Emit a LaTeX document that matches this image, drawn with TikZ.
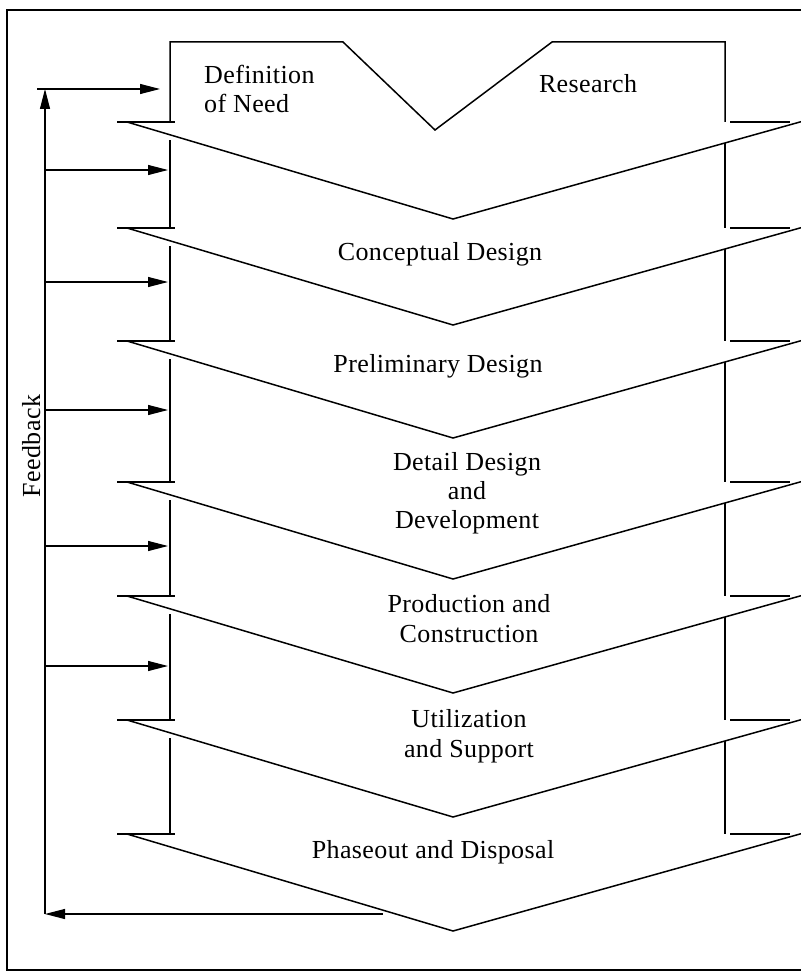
\documentclass[tikz,border=0pt]{standalone}
\usepackage{fontspec}
\setmainfont[LetterSpace=1.5]{Liberation Serif}
\usetikzlibrary{arrows.meta}
\begin{document}
\begin{tikzpicture}[x=1pt,y=-1pt,
  frame/.style={line width=1.6pt},
  chev/.style={line width=1.5pt, line join=miter},
  rail/.style={line width=1.1pt},
  fb/.style={line width=1.1pt, -{Triangle[length=20pt,width=10pt]}},
  lbl/.style={font=\fontsize{26}{29}\selectfont, inner sep=0pt},
  lblwide/.style={font=\fontsize{26}{30}\selectfont, inner sep=0pt},
]
\useasboundingbox (0,0) rectangle (800,971);

% outer frame (open on the right)
\draw[frame] (820,10) -- (7,10) -- (7,970) -- (820,970);

% first stage: need and research
\draw[chev] (170,122) -- (170,42) -- (343,42) -- (435,130) -- (552,42) -- (725,42) -- (725,122);

% chevrons with their side ticks
\foreach \t in {122,228,341,482,596,720,834}{
  \draw[rail] (117,\t) -- (175,\t);
  \draw[rail] (730,\t) -- (790,\t);
  \draw[chev] (127,\t) -- (453,\t+97) -- (820,\t-5.6);
}

% side rails between the ticks
\foreach \a/\b in {122/228,228/341,341/482,482/596,596/720,720/834}{
  \draw[rail] (170,\a+18) -- (170,\b);
  \draw[rail] (725,\a+21) -- (725,\b);
}

% stage labels (base = baseline of the last line)
\node[lbl, anchor=base west, align=left] (need) at (204,113) {Definition\\of Need};
\node[lbl, anchor=base] (research) at (588,93) {Research};
\node[lbl, anchor=base] (concept) at (440,260) {Conceptual Design};
\node[lbl, anchor=base] (prelim) at (438,372) {Preliminary Design};
\node[lbl, anchor=base, align=center] (detail) at (467,528) {Detail Design\\and\\Development};
\node[lblwide, anchor=base, align=center] (prod) at (469,642) {Production and\\Construction};
\node[lblwide, anchor=base, align=center] (util) at (469,757) {Utilization\\and Support};
\node[lbl, anchor=base] (phase) at (433,858) {Phaseout and Disposal};
\node[lbl, anchor=base, rotate=90] (feedback) at (40,446) {Feedback};

% feedback loop
\coordinate (fbstart) at (383,914);
\coordinate (fbbot) at (45,914);
\coordinate (fbtop) at (45,89);
\coordinate (toptail) at (37,89);
\coordinate (topin) at (160,89);
\draw[fb] (fbstart) -- (fbbot);
\draw[fb] (fbbot) -- (fbtop);
\draw[fb] (toptail) -- (topin);
\foreach \y [count=\i] in {170,282,410,546,666}{
  \coordinate (fbout\i) at (45,\y);
  \coordinate (fbin\i) at (168,\y);
  \draw[fb] (fbout\i) -- (fbin\i);
}
\end{tikzpicture}
\end{document}
